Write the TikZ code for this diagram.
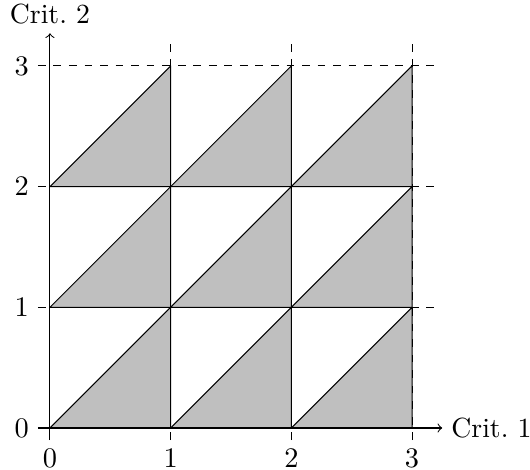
\documentclass[tikz,border=0pt]{standalone}
\begin{document}
\begin{tikzpicture}[x=46.6pt,y=46.6pt,
  every node/.style={font=\fontsize{10.7}{13}\selectfont},
  tri/.style={fill=black!25,draw=black,line join=round},
  grid/.style={dashed,thin},
  axis/.style={->,thin}]
\useasboundingbox (-0.414,-0.340) rectangle (3.977,3.546);
% shaded triangles
\foreach \i in {0,1,2}{
  \foreach \j in {0,1,2}{
    \draw[tri] (\i,\j) -- (\i+1,\j) -- (\i+1,\j+1) -- cycle;
  }
}
% dashed grid
\foreach \k in {1,2,3}{
  \draw[grid] (-0.1,\k) -- (3.2,\k);
  \draw[grid] (\k,-0.1) -- (\k,3.2);
}
% axes
\coordinate (xs) at (-0.1,0);
\coordinate (xe) at (3.25,0);
\coordinate (ys) at (0,-0.1);
\coordinate (ye) at (0,3.27);
\draw[axis] (xs) -- (xe) node[right] (c1) {Crit.~1};
\draw[axis] (ys) -- (ye) node[above] (c2) {Crit.~2};
% tick labels
\foreach \k in {0,1,2,3}{
  \node[below] (xl\k) at (\k,-0.1) {$\k$};
  \node[left] (yl\k) at (-0.1,\k) {$\k$};
}
\end{tikzpicture}
\end{document}
